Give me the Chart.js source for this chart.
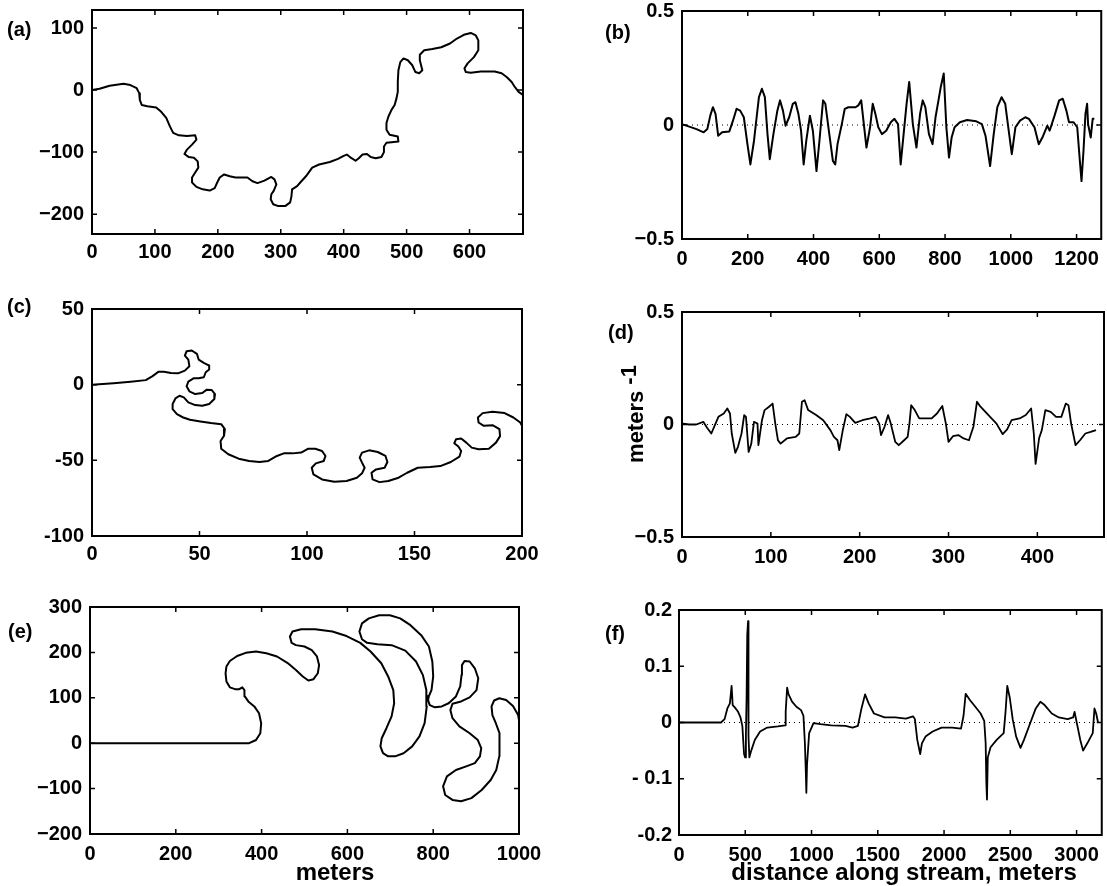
<!DOCTYPE html>
<html>
<head>
<meta charset="utf-8">
<script src="https://cdn.jsdelivr.net/npm/chart.js@4.4.1/dist/chart.umd.min.js"></script>
<style>
  body { margin: 0; background: #fff; }
  #wrap { position: relative; width: 1107px; height: 886px; overflow: hidden; }
  canvas { position: absolute; }
  .lab { position: absolute; font: bold 20px 'Liberation Sans', Arial, sans-serif; line-height: 22px; white-space: nowrap; color: #000; }
  .ttl { position: absolute; font: bold 24px 'Liberation Sans', Arial, sans-serif; line-height: 26px; white-space: nowrap; color: #000; transform: translate(-50%, -50%); }
</style>
</head>
<body>
<div id="wrap">
  <canvas id="pa" width="553" height="304" style="left:0;top:-14px"></canvas>
  <canvas id="pb" width="554" height="303" style="left:553px;top:-13px"></canvas>
  <canvas id="pc" width="553" height="305" style="left:0;top:285px"></canvas>
  <canvas id="pd" width="554" height="302" style="left:553px;top:288px"></canvas>
  <canvas id="pe" width="553" height="303" style="left:0;top:583px"></canvas>
  <canvas id="pf" width="554" height="300" style="left:553px;top:586px"></canvas>

  <div class="lab" style="left:7px;top:18px">(a)</div>
  <div class="lab" style="left:605px;top:21px">(b)</div>
  <div class="lab" style="left:7px;top:295px">(c)</div>
  <div class="lab" style="left:608px;top:321px">(d)</div>
  <div class="lab" style="left:8px;top:620px">(e)</div>
  <div class="lab" style="left:605px;top:622px">(f)</div>

  <div class="ttl" style="left:335px;top:872px">meters</div>
  <div class="ttl" style="left:904px;top:872px">distance along stream, meters</div>
  <div class="ttl" style="left:636px;top:414px;font-size:22px;transform:translate(-50%,-50%) rotate(-90deg)">meters <span style="position:relative;top:-7px">-1</span></div>
</div>

<script>
// (a) planform, meters
const aX = [0,12,28,50,61,71,75,76,79,88,102,110,118,124,129,138,151,164,166,159,151,147,154,162,168,169,164,159,159,166,176,187,195,199,203,210,219,228,239,247,255,263,274,285,290,293,289,285,284,288,296,307,315,317,318,326,331,340,350,361,378,391,400,405,410,419,424,430,437,443,451,460,464,464,468,476,487,486,473,468,468,471,476,481,484,486,486,487,490,495,502,509,514,520,525,521,521,528,541,555,569,580,591,602,610,614,614,607,597,592,594,602,618,640,651,659,667,672,678,685];
const aY = [0,2,7,10,8,3,-5,-16,-24,-26,-28,-35,-45,-59,-69,-73,-74,-73,-80,-88,-96,-103,-108,-109,-115,-125,-133,-141,-149,-156,-160,-162,-158,-149,-141,-136,-139,-141,-141,-141,-147,-150,-146,-140,-144,-152,-162,-168,-176,-184,-187,-187,-181,-171,-160,-155,-149,-139,-125,-120,-116,-111,-106,-104,-108,-114,-110,-104,-103,-108,-110,-108,-100,-91,-85,-84,-83,-75,-72,-64,-53,-43,-32,-24,-13,-3,13,32,45,51,48,40,29,27,32,48,57,64,66,69,75,83,89,92,88,80,64,53,43,35,29,28,30,30,27,21,13,5,-3,-8];
const aXT = [0,100,200,300,400,500,600];
const aYT = [-200,-100,0,100];

// (b) curvature vs distance
const bS = [0,22,44,66,77,86,94,102,110,122,144,155,166,177,188,199,208,219,227,234,243,252,260,267,278,290,298,307,315,326,337,345,354,362,370,378,389,398,409,418,429,436,448,459,466,473,486,495,506,517,528,536,545,553,561,572,580,588,597,608,621,635,646,657,665,674,683,691,702,713,724,732,740,751,762,771,780,787,796,804,812,820,829,845,867,895,912,923,937,948,959,972,983,995,1003,1014,1028,1044,1055,1072,1085,1096,1111,1118,1133,1147,1158,1169,1177,1191,1202,1210,1215,1221,1227,1232,1235,1243,1249,1254];
const bK = [0.004,-0.007,-0.018,-0.032,-0.018,0.041,0.078,0.049,-0.047,-0.032,-0.028,0.019,0.071,0.063,0.034,-0.084,-0.173,-0.069,0.034,0.122,0.159,0.122,-0.04,-0.15,-0.04,0.063,0.108,0.063,-0.003,0.034,0.093,0.1,0.049,-0.025,-0.173,-0.069,0.041,-0.025,-0.202,-0.069,0.108,0.093,-0.04,-0.158,-0.173,-0.084,0.004,0.071,0.078,0.078,0.078,0.086,0.108,0.004,-0.099,-0.01,0.093,0.049,-0.01,-0.04,-0.025,0.012,0.027,0.004,-0.173,-0.04,0.093,0.189,0.004,-0.099,0.049,0.108,0.078,-0.04,-0.084,0.034,0.108,0.167,0.226,-0.01,-0.143,-0.055,-0.01,0.012,0.022,0.016,0.004,-0.047,-0.18,-0.04,0.078,0.122,0.093,-0.04,-0.128,-0.01,0.019,0.034,0.027,-0.01,-0.084,-0.055,-0.003,-0.025,0.041,0.108,0.115,0.063,0.012,0.012,-0.01,-0.158,-0.246,-0.114,0.049,0.093,0.004,-0.055,0.027,0.027];
const bXT = [0,200,400,600,800,1000,1200];
const bYT = [-0.5,0,0.5];

// (c) planform
const cX = [0,10,18,25,28,31,33.5,36.7,40,43.2,45.3,44.8,43.2,44,46.4,48.8,49.6,52,54.5,54.5,52.9,52,49.6,47.2,44.8,44,45.3,48,51.3,53.4,55.6,57.2,56.9,54.5,51.3,48,44.8,42.7,40.7,38.8,37.5,37.5,39.5,42.4,45.6,50.4,55.3,60.1,61.8,61.4,59.8,60.1,63.4,68.2,73.1,77.9,82,86,89.2,93.3,97.3,100.6,103.8,107,108.6,107.8,104.1,102.2,103,107,112.7,118.4,123.2,125.6,126.8,125.6,124.5,125.6,128.9,132.9,136.5,137.4,136.1,132.1,130,130.5,133.7,137.8,142.6,146.6,151.5,157.2,162,166.9,170.9,171.7,170.4,168.5,169.3,171.7,174.1,176.6,179.8,184.6,187.9,189.8,189.5,186.3,182.2,179.8,179.5,181.7,186.3,191.9,196,199.2,200];
const cY = [0,1,2,3,5.5,8.6,8.6,7.7,7.5,9.3,12.2,16.6,19.2,22.1,22.6,20.4,16.6,14.4,12.6,10,8.2,4.9,4.2,4.2,2,-1.1,-4.4,-6.2,-5.5,-3.3,-3.5,-6.2,-9.5,-12.8,-13.9,-13.5,-11.7,-8.4,-7.3,-9.1,-12.8,-16.2,-19.5,-21.7,-23.2,-24.3,-25.4,-26.1,-29.4,-33.8,-37.2,-42.3,-46,-48.9,-50.4,-51.1,-50.4,-47.1,-45.4,-45.4,-44.9,-42.3,-42.3,-43.8,-47.1,-50.4,-52,-54.9,-59.3,-62.6,-64.2,-63.7,-61.5,-58.6,-54.9,-51.5,-48.2,-44.9,-43.4,-44.5,-47.1,-51.1,-54.9,-56,-58.2,-62.6,-64.4,-63.7,-61.5,-58.2,-54.9,-54.4,-53.8,-51.1,-47.6,-43.8,-40.9,-38.7,-36.1,-35.6,-38.3,-41.6,-42.7,-42.3,-38.3,-34,-29.4,-26.8,-27.2,-25,-21.7,-18.8,-17.9,-18.8,-21.7,-25,-27.2];
const cXT = [0,50,100,150,200];
const cYT = [-100,-50,0,50];

// (d) curvature
const dS = [1,8,16,24,28,33,37,41,47,51,54,56,60,63,67,70,72,75,78,81,85,86,90,93,98,102,105,108,111,118,128,132,135,138,142,151,159,167,171,175,177,181,185,189,195,203,212,218,222,224,228,232,235,240,244,250,254,256,258,262,267,273,281,287,293,297,300,305,311,317,323,328,332,336,346,354,361,366,371,380,387,393,396,398,402,405,409,415,421,427,432,435,438,443,448,454,460,466];
const dK = [0.004,0,0,0.012,-0.013,-0.04,-0.003,0.034,0.049,0.071,0.049,-0.04,-0.126,-0.099,-0.04,0.042,0.034,-0.122,-0.085,0.012,0.004,-0.092,0.019,0.064,0.079,0.093,0.004,-0.07,-0.085,-0.062,-0.055,-0.04,0.101,0.108,0.064,0.042,0.019,-0.025,-0.055,-0.07,-0.114,-0.025,0.046,0.034,0.007,0.019,0.027,0.034,0.004,-0.047,-0.01,0.042,0.004,-0.077,-0.092,-0.07,-0.055,0.004,0.086,0.064,0.027,0.027,0.027,0.049,0.082,0.004,-0.077,-0.052,-0.047,-0.062,-0.07,-0.01,0.101,0.079,0.037,0.004,-0.043,-0.022,0.019,0.027,0.042,0.071,-0.04,-0.175,-0.06,-0.025,0.064,0.056,0.034,0.034,0.093,0.086,0.004,-0.092,-0.07,-0.04,-0.033,-0.025];
const dXT = [0,100,200,300,400];
const dYT = [-0.5,0,0.5];

// (e) planform
const eX = [0,371,387,397,399,394,383,369,361,360,355,348,338,326,318,316,318,326,343,363,387,411,436,460,480,496,509,521,531,534,529,517,500,480,470,466,472,492,525,565,598,630,654,679,695,707,709,703,691,680,677,683,695,711,731,751,768,780,785,784,776,760,735,703,670,646,634,628,634,650,674,699,723,747,772,790,798,800,796,790,788,792,804,820,836,853,863,866,867,873,885,897,905,901,885,865,845,840,845,861,885,904,912,909,897,877,853,832,823,828,845,865,889,913,934,947,954,955,954,946,938,936,942,954,970,986,998,1000];
const eY = [0,0,7,22,44,66,81,92,103,117,123,119,119,123,136,154,169,181,192,199,202,198,191,177,161,147,138,141,154,172,191,205,213,216,221,235,246,251,251,246,236,221,202,176,147,117,88,59,33,11,-7,-22,-29,-29,-22,-7,15,44,81,117,150,180,204,216,218,221,229,246,264,275,282,282,275,260,238,213,180,147,117,104,95,84,79,81,88,103,125,150,172,181,180,165,143,117,101,92,87,73,55,37,22,7,-11,-29,-44,-51,-59,-73,-95,-114,-125,-128,-121,-103,-81,-59,-29,-4,22,44,62,81,94,99,95,82,62,51];
const eXT = [0,200,400,600,800,1000];
const eYT = [-200,-100,0,100,200,300];

// (f) curvature
const fS = [0,317,344,365,384,397,405,424,446,464,478,491,499,505,510,515,521,523,526,531,545,572,612,666,746,800,805,816,827,853,886,921,939,950,956,961,966,982,1015,1068,1149,1256,1310,1350,1377,1404,1431,1471,1551,1632,1712,1766,1780,1798,1820,1833,1860,1914,1981,2061,2128,2147,2163,2195,2236,2276,2303,2314,2319,2324,2330,2351,2397,2450,2464,2477,2496,2518,2544,2577,2603,2652,2692,2727,2759,2813,2866,2933,2974,2985,3001,3028,3049,3081,3122,3135,3148,3162];
const fK = [0,0,0.006,0.025,0.034,0.065,0.031,0.026,0.019,0.009,-0.006,-0.056,-0.062,-0.019,0.044,0.156,0.18,0.1,-0.025,-0.062,-0.05,-0.031,-0.016,-0.009,-0.007,-0.005,0.019,0.062,0.05,0.037,0.028,0.022,0.012,-0.037,-0.081,-0.125,-0.075,-0.019,-0.001,-0.003,-0.005,-0.006,-0.009,-0.006,0.025,0.05,0.034,0.016,0.009,0.009,0.007,0.011,0.006,-0.031,-0.056,-0.037,-0.025,-0.016,-0.009,-0.009,-0.011,0.012,0.051,0.04,0.028,0.016,0.003,-0.037,-0.106,-0.137,-0.062,-0.044,-0.031,-0.019,0.019,0.065,0.044,0.006,-0.025,-0.045,-0.031,0,0.025,0.037,0.031,0.016,0.009,0.006,0.009,0.019,0,-0.031,-0.05,-0.037,-0.019,0.025,0.016,0];
const fXT = [0,500,1000,1500,2000,2500,3000];
const fYT = [-0.2,-0.1,0,0.1,0.2];

Chart.defaults.font.family = "'Liberation Sans', Arial, sans-serif";
Chart.defaults.font.size = 20;
Chart.defaults.font.weight = 'bold';
Chart.defaults.color = '#000';

// matlab style box with inward ticks on all four sides
const boxTicks = {
  id: 'boxTicks',
  afterDraw(chart) {
    const ctx = chart.ctx, a = chart.chartArea, sx = chart.scales.x, sy = chart.scales.y;
    ctx.save();
    ctx.strokeStyle = '#000';
    ctx.lineWidth = 1.5;
    ctx.beginPath();
    sx.ticks.forEach(t => {
      const p = sx.getPixelForValue(t.value);
      ctx.moveTo(p, a.bottom); ctx.lineTo(p, a.bottom - 5);
      ctx.moveTo(p, a.top); ctx.lineTo(p, a.top + 5);
    });
    sy.ticks.forEach(t => {
      const p = sy.getPixelForValue(t.value);
      ctx.moveTo(a.left, p); ctx.lineTo(a.left + 5, p);
      ctx.moveTo(a.right, p); ctx.lineTo(a.right - 5, p);
    });
    ctx.stroke();
    ctx.lineWidth = 2;
    ctx.strokeRect(a.left, a.top, a.right - a.left, a.bottom - a.top);
    ctx.restore();
  }
};

function pts(xs, ys) {
  return xs.map((x, i) => ({x: x, y: ys[i]}));
}

const minus = v => (v < 0 ? '\u2212' + Math.abs(v) : String(v));

function curve(xs, ys, w) {
  return {data: pts(xs, ys), showLine: true, pointRadius: 0, borderColor: '#000',
          borderWidth: w, borderJoinStyle: 'round', fill: false};
}
function zeroLine(xmax) {
  return {data: [{x: 0, y: 0}, {x: xmax, y: 0}], showLine: true, pointRadius: 0,
          borderColor: '#000', borderWidth: 1, borderDash: [1, 4]};
}

function panel(id, datasets, o) {
  new Chart(document.getElementById(id), {
    type: 'scatter',
    data: {datasets: datasets},
    options: {
      responsive: false,
      animation: false,
      devicePixelRatio: 1,
      layout: {autoPadding: false, padding: {top: o.top, right: o.right, left: 0, bottom: 0}},
      plugins: {legend: {display: false}, tooltip: {enabled: false}},
      scales: {
        x: {
          type: 'linear', min: o.xmin, max: o.xmax,
          grid: {display: false, drawTicks: false}, border: {display: false},
          ticks: {padding: o.xpad, maxRotation: 0, autoSkip: false, callback: v => String(v)},
          afterBuildTicks: s => { s.ticks = o.xt.map(v => ({value: v})); },
          afterFit: s => { s.height = o.xh; }
        },
        y: {
          type: 'linear', min: o.ymin, max: o.ymax,
          grid: {display: false, drawTicks: false}, border: {display: false},
          ticks: {padding: o.ypad, autoSkip: false, callback: o.yfmt},
          afterBuildTicks: s => { s.ticks = o.yt.map(v => ({value: v})); },
          afterFit: s => { s.width = o.yw; }
        }
      }
    },
    plugins: [boxTicks]
  });
}

const halfFmt = v => (v === 0 ? '0' : (v < 0 ? '\u2212' : '') + Math.abs(v).toFixed(1));
const fFmt = v => {
  const r = Math.round(v * 10) / 10;
  if (r === 0) return '0';
  if (r === -0.1) return '- 0.1';
  return r.toFixed(1);
};

panel('pa', [curve(aX, aY, 2)],
  {xmin: 0, xmax: 685, xt: aXT, ymin: -232, ymax: 129, yt: aYT,
   top: 24, right: 30, yw: 92, xh: 56, xpad: 6, ypad: 8, yfmt: minus});

panel('pb', [curve(bS, bK, 2), zeroLine(1275)],
  {xmin: 0, xmax: 1275, xt: bXT, ymin: -0.5, ymax: 0.5, yt: bYT,
   top: 24, right: 3, yw: 129, xh: 51, xpad: 8, ypad: 8, yfmt: halfFmt});

panel('pc', [curve(cX, cY, 2)],
  {xmin: 0, xmax: 200, xt: cXT, ymin: -100, ymax: 50, yt: cYT,
   top: 24, right: 31, yw: 92, xh: 54, xpad: 6, ypad: 8, yfmt: v => String(v)});

panel('pd', [curve(dS, dK, 1.8), zeroLine(475)],
  {xmin: 0, xmax: 475, xt: dXT, ymin: -0.5, ymax: 0.5, yt: dYT,
   top: 24, right: 3, yw: 129, xh: 53, xpad: 8, ypad: 8, yfmt: halfFmt});

panel('pe', [curve(eX, eY, 2)],
  {xmin: 0, xmax: 1000, xt: eXT, ymin: -200, ymax: 300, yt: eYT,
   top: 24, right: 34, yw: 90, xh: 52, xpad: 8, ypad: 8, yfmt: minus});

panel('pf', [curve(fS, fK, 1.8), zeroLine(3190)],
  {xmin: 0, xmax: 3190, xt: fXT, ymin: -0.2, ymax: 0.2, yt: fYT,
   top: 24, right: 3, yw: 126, xh: 51, xpad: 8, ypad: 7, yfmt: fFmt});
</script>
</body>
</html>
